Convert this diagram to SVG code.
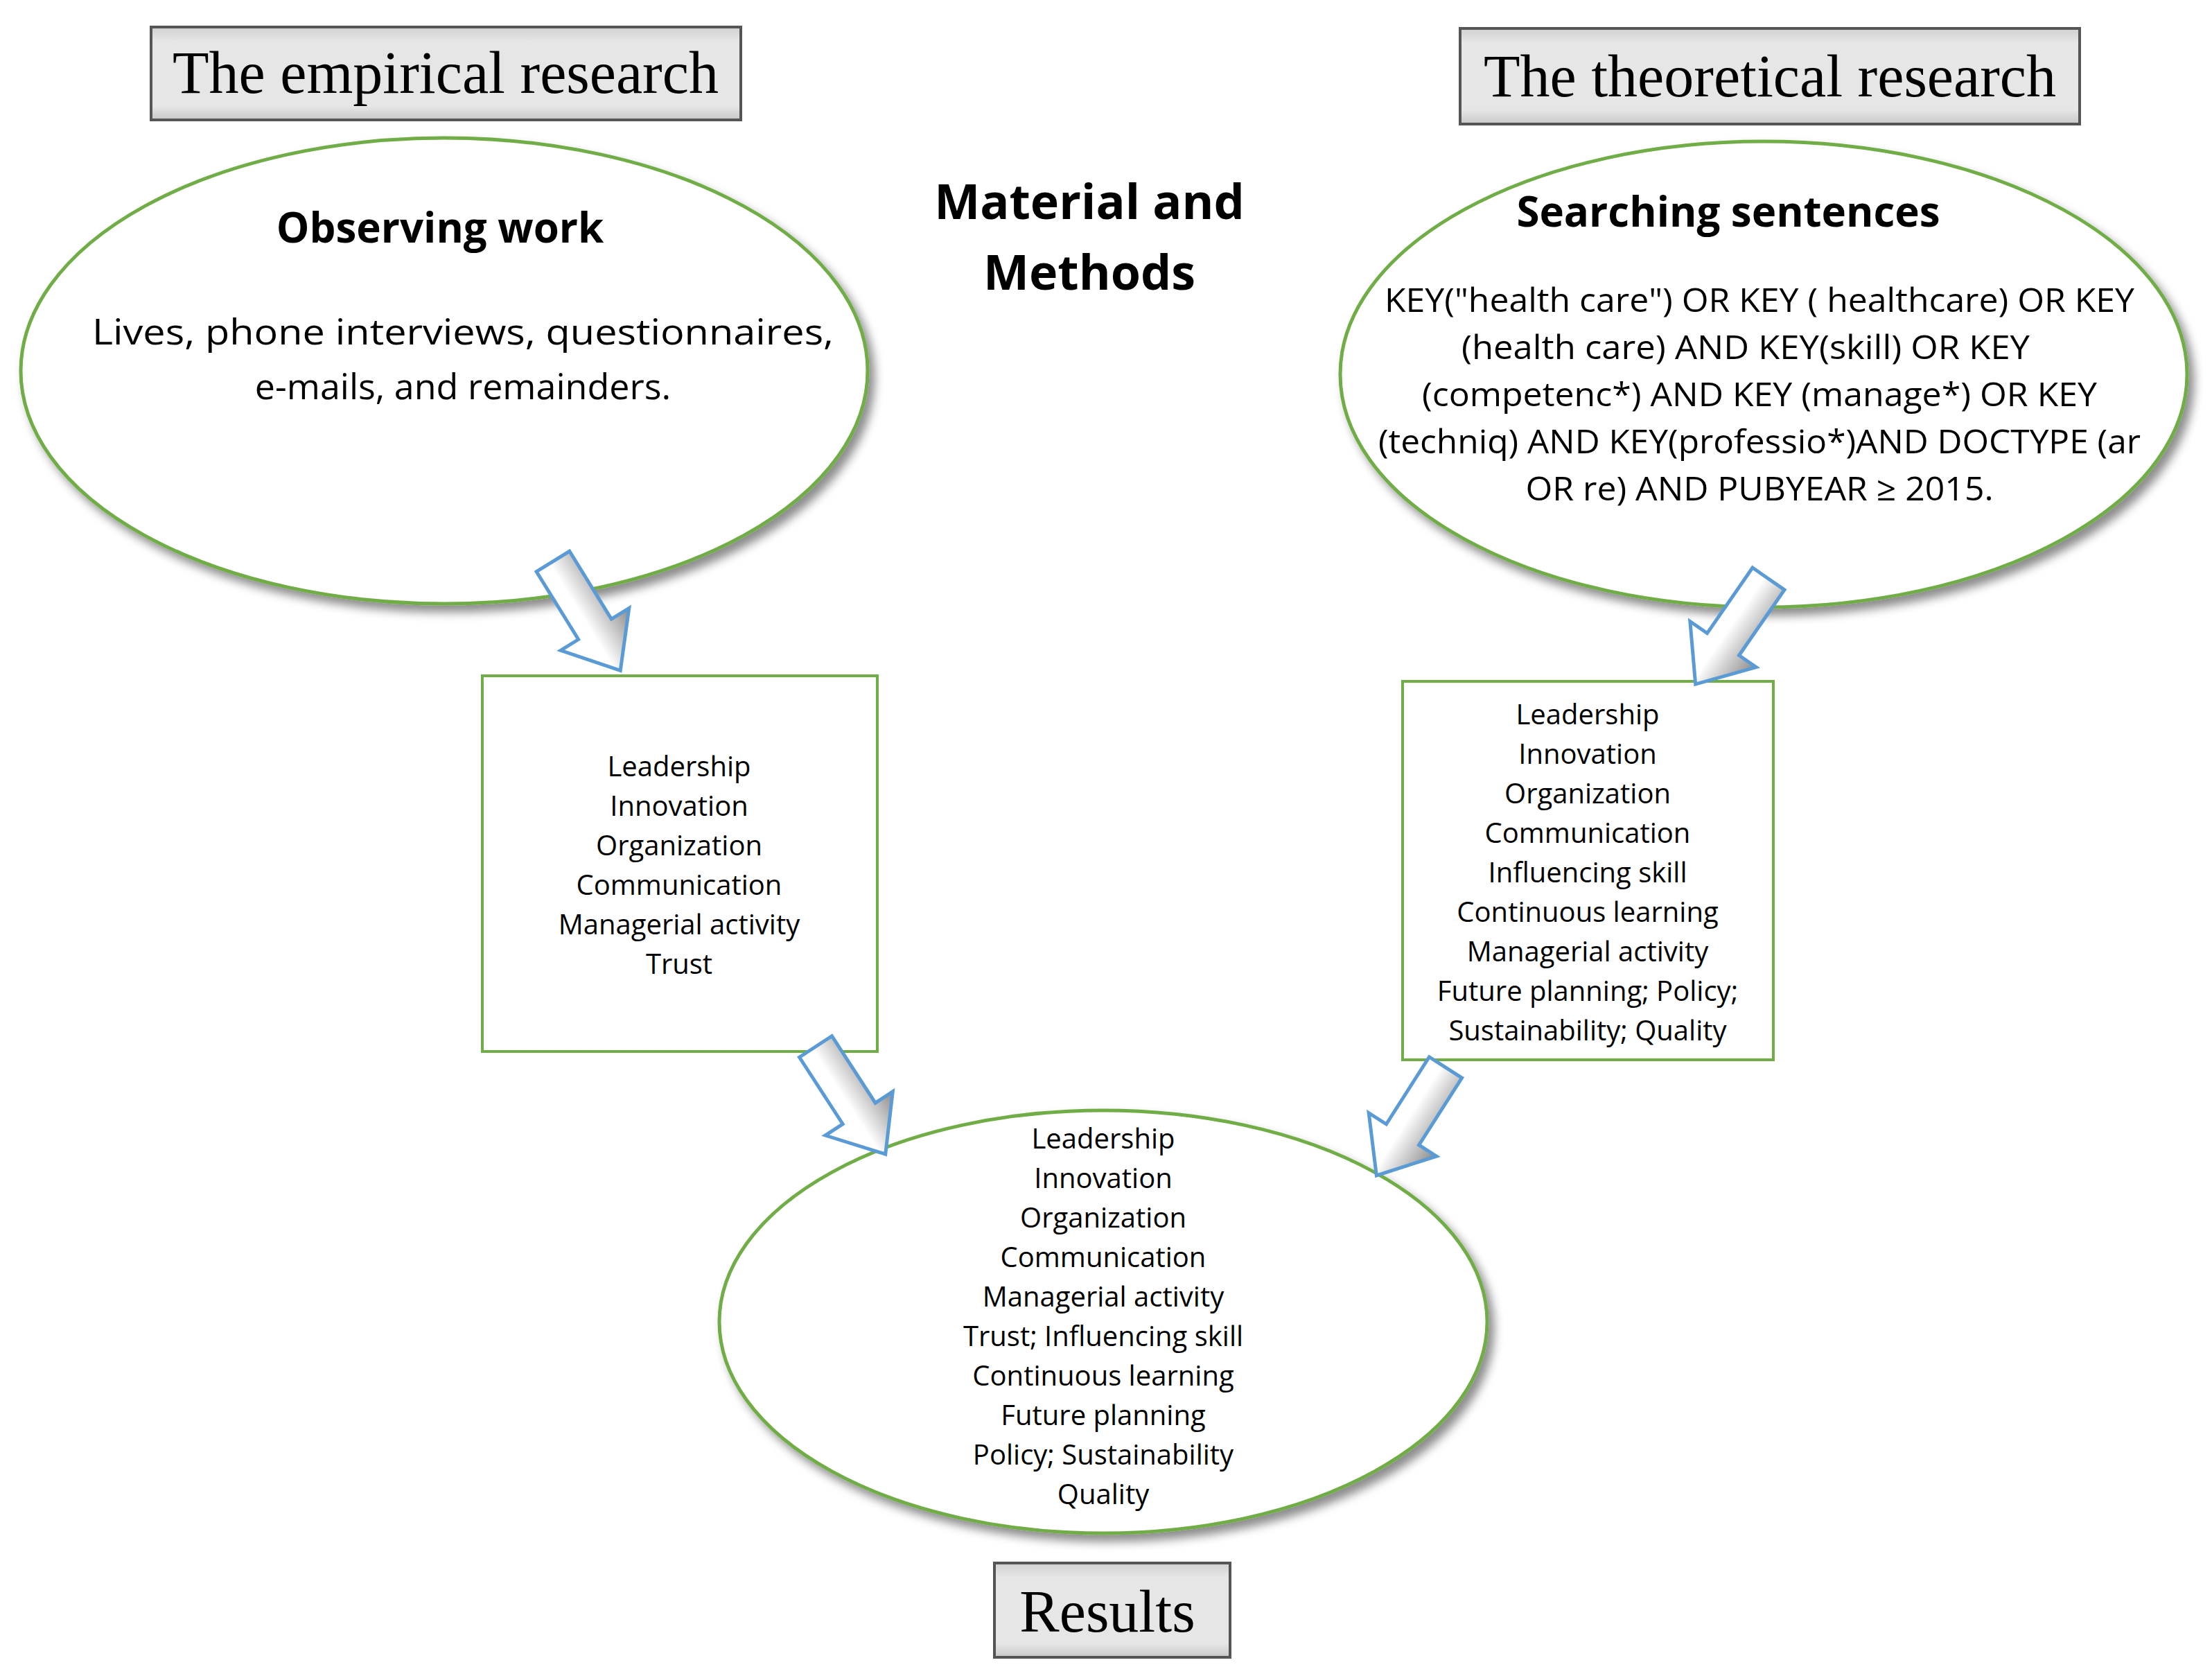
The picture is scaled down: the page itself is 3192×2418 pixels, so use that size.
<svg xmlns="http://www.w3.org/2000/svg" width="3192" height="2418" viewBox="0 0 3192 2418">
<defs>
<filter id="sh" x="-10%" y="-10%" width="125%" height="130%"><feDropShadow dx="8" dy="10" stdDeviation="7" flood-color="#000" flood-opacity="0.45"/></filter>
<linearGradient id="ag" x1="0" x2="1" y1="0" y2="0"><stop offset="0" stop-color="#fff"/><stop offset="0.45" stop-color="#fff"/><stop offset="1" stop-color="#8a8a8a"/></linearGradient>
<linearGradient id="bg" x1="0" x2="0" y1="0" y2="1"><stop offset="0" stop-color="#d0d0d0"/><stop offset="0.15" stop-color="#e6e6e6"/><stop offset="0.85" stop-color="#e6e6e6"/><stop offset="1" stop-color="#c8c8c8"/></linearGradient>
<path id="arr" d="M-28,0 L28,0 L28,115 L58,115 L0,185 L-58,115 L-28,115 Z"/>
</defs>
<style>
.ell{fill:#fff;stroke:#70ad47;stroke-width:5;filter:url(#sh)}
.box{fill:#fff;stroke:#70ad47;stroke-width:4}
.tb{fill:url(#bg);stroke:#555;stroke-width:4}
.ser{font-family:"Liberation Serif",serif;font-size:86px;text-anchor:middle;fill:#000}
.b{font-family:"Open Sans","Liberation Sans",sans-serif;font-weight:bold;text-anchor:middle;fill:#000}
.t{font-family:"Open Sans","Liberation Sans",sans-serif;text-anchor:middle;fill:#000}
.s{font-size:40px}
.a use{fill:url(#ag);stroke:#5b9bd5;stroke-width:5;stroke-linejoin:miter}
</style>
<rect width="3192" height="2418" fill="#fff"/>
<g id="empirical"><rect class="tb" x="218" y="39" width="851" height="134"/><text class="ser" x="643" y="134">The empirical research</text></g>
<g id="theoretical"><rect class="tb" x="2107" y="41" width="894" height="138"/><text class="ser" x="2554" y="139">The theoretical research</text></g>
<g id="material"><text class="b" font-size="70" x="1572" y="316">Material and</text><text class="b" font-size="70" x="1572" y="418">Methods</text></g>
<g id="observing"><ellipse class="ell" cx="641" cy="535" rx="611" ry="336"/>
<text class="b" font-size="60" x="635" y="350">Observing work</text>
<text class="t" font-size="52" x="668" y="497" textLength="1070" lengthAdjust="spacingAndGlyphs">Lives, phone interviews, questionnaires,</text>
<text class="t" font-size="52" x="668" y="576">e-mails, and remainders.</text></g>
<g id="searching"><ellipse class="ell" cx="2545" cy="540" rx="611" ry="336"/>
<text class="b" font-size="60" x="2494" y="327">Searching sentences</text>
<g class="t" font-size="48">
<text x="2539" y="450" textLength="1082" lengthAdjust="spacingAndGlyphs">KEY("health care") OR KEY ( healthcare) OR KEY</text>
<text x="2519" y="518" textLength="820" lengthAdjust="spacingAndGlyphs">(health care) AND KEY(skill) OR KEY</text>
<text x="2539" y="586" textLength="974" lengthAdjust="spacingAndGlyphs">(competenc*) AND KEY (manage*) OR KEY</text>
<text x="2539" y="654" textLength="1100" lengthAdjust="spacingAndGlyphs">(techniq) AND KEY(professio*)AND DOCTYPE (ar</text>
<text x="2539" y="722" textLength="675" lengthAdjust="spacingAndGlyphs">OR re) AND PUBYEAR ≥ 2015.</text></g></g>
<g id="leftbox"><rect class="box" x="696" y="975" width="570" height="542"/>
<g class="t s"><text x="980" y="1120">Leadership</text><text x="980" y="1177">Innovation</text><text x="980" y="1234">Organization</text><text x="980" y="1291">Communication</text><text x="980" y="1348">Managerial activity</text><text x="980" y="1405">Trust</text></g></g>
<g id="rightbox"><rect class="box" x="2024" y="983" width="535" height="546"/>
<g class="t s"><text x="2291" y="1045">Leadership</text><text x="2291" y="1102">Innovation</text><text x="2291" y="1159">Organization</text><text x="2291" y="1216">Communication</text><text x="2291" y="1273">Influencing skill</text><text x="2291" y="1330">Continuous learning</text><text x="2291" y="1387">Managerial activity</text><text x="2291" y="1444">Future planning; Policy;</text><text x="2291" y="1501">Sustainability; Quality</text></g></g>
<g id="resultsell"><ellipse class="ell" cx="1592" cy="1907" rx="554" ry="305"/>
<g class="t s"><text x="1592" y="1657">Leadership</text><text x="1592" y="1714">Innovation</text><text x="1592" y="1771">Organization</text><text x="1592" y="1828">Communication</text><text x="1592" y="1885">Managerial activity</text><text x="1592" y="1942">Trust; Influencing skill</text><text x="1592" y="1999">Continuous learning</text><text x="1592" y="2056">Future planning</text><text x="1592" y="2113">Policy; Sustainability</text><text x="1592" y="2170">Quality</text></g></g>
<g id="results"><rect class="tb" x="1435" y="2255" width="340" height="136"/><text class="ser" x="1598" y="2354">Results</text></g>
<g id="connectors" class="a">
<use href="#arr" transform="translate(798,810) rotate(-31.7)"/>
<use href="#arr" transform="translate(2552,835) rotate(34.7)"/>
<use href="#arr" transform="translate(1177,1510) rotate(-33)"/>
<use href="#arr" transform="translate(2086,1540) rotate(32.6)"/>
</g>
</svg>
